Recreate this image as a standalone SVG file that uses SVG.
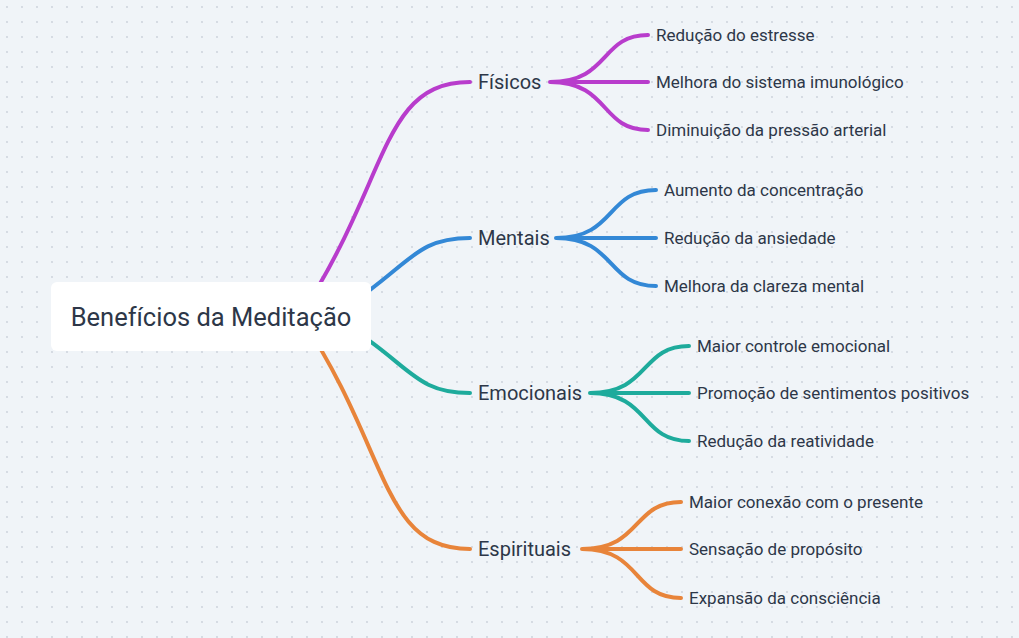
<svg xmlns="http://www.w3.org/2000/svg" width="1019" height="638" viewBox="0 0 1019 638">
<style>
.c{fill:none;stroke-width:4;stroke-linecap:round}
.p{stroke:#b83ccc}.b{stroke:#3388d6}.t{stroke:#1eab9c}.o{stroke:#e8843a}
text{font-family:Roboto,"Liberation Sans",sans-serif;fill:#2d3748}
.br{font-size:20px}.lf{font-size:17px}
</style>
<defs><pattern id="dots" width="15" height="15" patternUnits="userSpaceOnUse"><circle cx="7" cy="7" r="0.9" fill="#c9d0d8"/></pattern></defs>
<rect width="1019" height="638" fill="#f0f4f8"/>
<rect width="1019" height="638" fill="url(#dots)"/>
<g id="connectors">
<path class="c p" d="M300,316 C390,180 380,82 470,82"/>
<path class="c b" d="M330,316 C410,270 410,238 470,238"/>
<path class="c t" d="M330,316 C410,360 410,393 470,393"/>
<path class="c o" d="M300,316 C390,450 380,549 470,549"/>
<path class="c p" d="M550,82 C610,82 600,35 648,35 M550,82 L648,82 M550,82 C610,82 600,130 648,130"/>
<path class="c b" d="M556,238 C616,238 606,190 656,190 M556,238 L656,238 M556,238 C616,238 606,286 656,286"/>
<path class="c t" d="M590,393 C650,393 640,346 689,346 M590,393 L689,393 M590,393 C650,393 640,441 689,441"/>
<path class="c o" d="M582,549 C642,549 632,502 681,502 M582,549 L681,549 M582,549 C642,549 632,598 681,598"/>
</g>
<g id="root"><rect x="51" y="282" width="320" height="69" rx="6" fill="#fff"/><text x="211" y="326" font-size="25.5" text-anchor="middle">Benefícios da Meditação</text></g>
<g id="fisicos"><text class="br" x="478" y="89">Físicos</text></g>
<g id="mentais"><text class="br" x="478" y="245">Mentais</text></g>
<g id="emocionais"><text class="br" x="478" y="400">Emocionais</text></g>
<g id="espirituais"><text class="br" x="478" y="556">Espirituais</text></g>
<g id="f1"><text class="lf" x="656" y="41">Redução do estresse</text></g>
<g id="f2"><text class="lf" x="656" y="88">Melhora do sistema imunológico</text></g>
<g id="f3"><text class="lf" x="656" y="136">Diminuição da pressão arterial</text></g>
<g id="m1"><text class="lf" x="664" y="196">Aumento da concentração</text></g>
<g id="m2"><text class="lf" x="664" y="244">Redução da ansiedade</text></g>
<g id="m3"><text class="lf" x="664" y="292">Melhora da clareza mental</text></g>
<g id="e1"><text class="lf" x="697" y="352">Maior controle emocional</text></g>
<g id="e2"><text class="lf" x="697" y="399">Promoção de sentimentos positivos</text></g>
<g id="e3"><text class="lf" x="697" y="447">Redução da reatividade</text></g>
<g id="s1"><text class="lf" x="689" y="508">Maior conexão com o presente</text></g>
<g id="s2"><text class="lf" x="689" y="555">Sensação de propósito</text></g>
<g id="s3"><text class="lf" x="689" y="604">Expansão da consciência</text></g>
</svg>
